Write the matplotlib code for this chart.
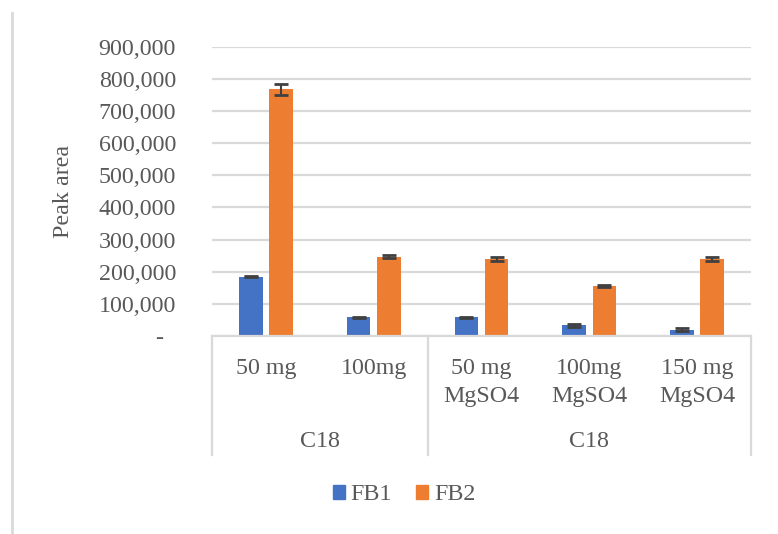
import matplotlib
matplotlib.use("Agg")
import matplotlib.pyplot as plt
from matplotlib.patches import Patch
from matplotlib.lines import Line2D
import matplotlib.transforms as mtransforms

categories_row1 = ["50 mg", "100mg", "50 mg", "100mg", "150 mg"]
categories_row2 = ["", "", "MgSO4", "MgSO4", "MgSO4"]
groups = ["C18", "C18"]
group_spans = [(0, 1), (2, 4)]
series_names = ["FB1", "FB2"]
fb1 = [184000, 58000, 58000, 33000, 20000]
fb1_err = [2000, 2000, 2000, 5000, 4000]
fb2 = [767000, 247000, 240000, 155000, 240000]
fb2_err = [18000, 4000, 7000, 4000, 7000]
yticks = [0, 100000, 200000, 300000, 400000, 500000, 600000, 700000, 800000, 900000]

W, H = 778, 534
fig = plt.figure(figsize=(W / 100, H / 100), dpi=100)
plt.rcParams['font.family'] = ['Liberation Serif', 'DejaVu Serif']
FS = 17.3
TXT = "#595959"
GRID = "#d9d9d9"

left, right, bottom, top = 212, 751, 336, 46.7
ax = fig.add_axes([left / W, 1 - bottom / H, (right - left) / W, (bottom - top) / H])

x = list(range(len(categories_row1)))
bw = 0.22
off = 0.14
ax.bar([i - off for i in x], fb1, width=bw, color="#4472C4", zorder=3)
ax.bar([i + off for i in x], fb2, width=bw, color="#ED7D31", zorder=3)
ekw = dict(fmt="none", ecolor="#404040", elinewidth=1.5, capsize=5, capthick=2, zorder=4)
ax.errorbar([i - off for i in x], fb1, yerr=fb1_err, **ekw)
ax.errorbar([i + off for i in x], fb2, yerr=fb2_err, **ekw)

ax.set_xlim(-0.5, len(x) - 0.5)
ax.set_ylim(0, 900000)
ax.set_yticks(yticks)
ax.set_yticklabels([("-  " if v == 0 else f"{v:,}") for v in yticks],
                   fontsize=FS, color=TXT)
ax.tick_params(axis='y', length=0, pad=26)
ax.set_xticks([])
for s in ax.spines.values():
    s.set_visible(False)
ax.grid(axis='y', color=GRID, lw=1.6, zorder=0)
ax.set_axisbelow(True)

# category axis table
tr = mtransforms.blended_transform_factory(ax.transData, fig.transFigure)
def fy(py):
    return 1 - py / H
for xs in [-0.5, 1.5, len(x) - 0.5]:
    fig.add_artist(Line2D([xs, xs], [fy(bottom), fy(455)], transform=tr, color=GRID, lw=1.6))
fig.add_artist(Line2D([-0.5, len(x) - 0.5], [fy(bottom), fy(bottom)], transform=tr, color=GRID, lw=1.6))
for i in x:
    fig.text(i, fy(374), categories_row1[i], transform=tr, ha='center', va='baseline', fontsize=FS, color=TXT)
    if categories_row2[i]:
        fig.text(i, fy(402), categories_row2[i], transform=tr, ha='center', va='baseline', fontsize=FS, color=TXT)
for g, (a, b) in zip(groups, group_spans):
    fig.text((a + b) / 2, fy(447), g, transform=tr, ha='center', va='baseline', fontsize=FS, color=TXT)

fig.text(64 / W, fy(191), "Peak area", rotation=90, ha='center', va='center', fontsize=FS, color=TXT)

handles = [Patch(color="#4472C4"), Patch(color="#ED7D31")]
fig.legend(handles, series_names, loc='center', bbox_to_anchor=(404 / W, fy(495)), ncol=2,
           frameon=False, fontsize=FS, handlelength=0.5, handleheight=0.5,
           handletextpad=0.25, columnspacing=1.0, labelcolor=TXT)

fig.add_artist(Line2D([12 / W, 12 / W], [fy(13), 0], transform=fig.transFigure, color=GRID, lw=2))

fig.savefig("out.png", dpi=100)
